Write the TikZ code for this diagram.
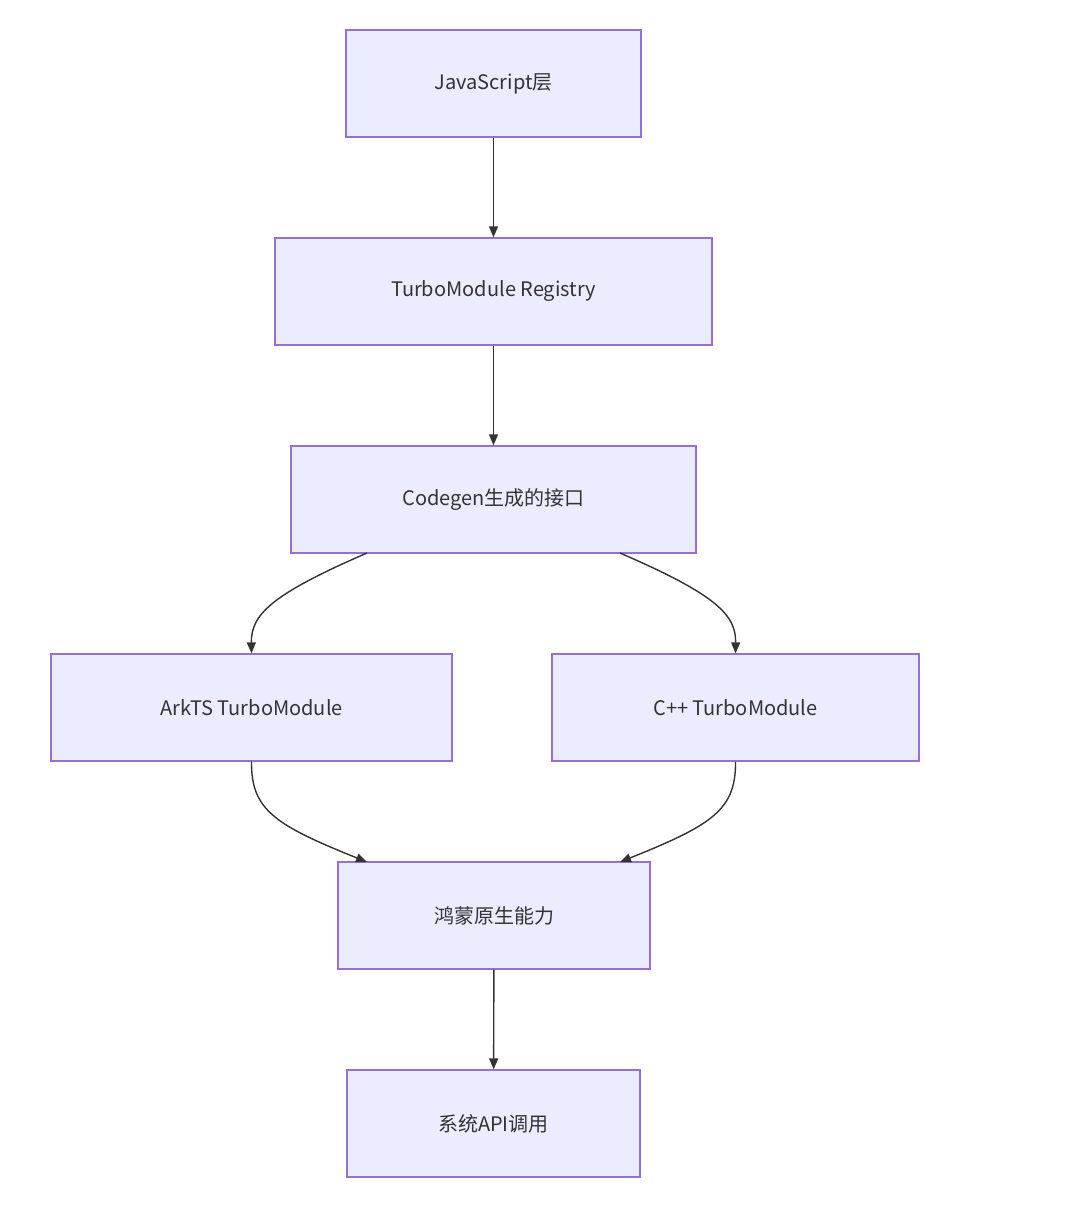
\documentclass[tikz,border=0pt]{standalone}
\usepackage{fontspec}
\setmainfont{Noto Sans CJK SC}
\usetikzlibrary{arrows.meta}
\definecolor{boxfill}{HTML}{ECECFF}
\definecolor{boxdraw}{HTML}{9370DB}
\definecolor{ln}{HTML}{333333}
\begin{document}
\begin{tikzpicture}[x=1pt,y=-1pt,
  box/.style={draw=boxdraw,fill=boxfill,line width=1.3pt,text=ln,font=\fontsize{20}{24}\selectfont,inner sep=0pt},
  arr/.style={draw=ln,line width=1.4pt,-{Triangle[length=11pt,width=9pt]}}]
\useasboundingbox (0,0) rectangle (1082,1206);
\fill[white] (0,0) rectangle (1082,1206);
\node[box,minimum width=295pt,minimum height=107pt] (a) at (493.5,83.5) {JavaScript层};
\node[box,minimum width=437pt,minimum height=107pt] (b) at (493.5,291.5) {TurboModule Registry};
\node[box,minimum width=405pt,minimum height=107pt] (c) at (493.5,499.5) {Codegen生成的接口};
\node[box,minimum width=401pt,minimum height=107pt] (d) at (251.5,707.5) {ArkTS TurboModule};
\node[box,minimum width=367pt,minimum height=107pt] (e) at (735.5,707.5) {C++ TurboModule};
\node[box,minimum width=312pt,minimum height=107pt] (f) at (494,915.5) {鸿蒙原生能力};
\node[box,minimum width=293pt,minimum height=107pt] (g) at (493.5,1123.5) {系统API调用};
\coordinate (c1) at (367,553);
\coordinate (c2) at (620,553);
\coordinate (f1) at (367,862);
\coordinate (f2) at (620,862);
\draw[arr] (a) -- (b);
\draw[arr] (b) -- (c);
\draw[arr] (c1) .. controls (270,595) and (251,615) .. (d.north);
\draw[arr] (c2) .. controls (717,595) and (736,615) .. (e.north);
\draw[arr] (d.south) .. controls (251,810) and (275,825) .. (f1);
\draw[arr] (e.south) .. controls (736,810) and (712,825) .. (f2);
\draw[arr] (f) -- (g);
\end{tikzpicture}
\end{document}
